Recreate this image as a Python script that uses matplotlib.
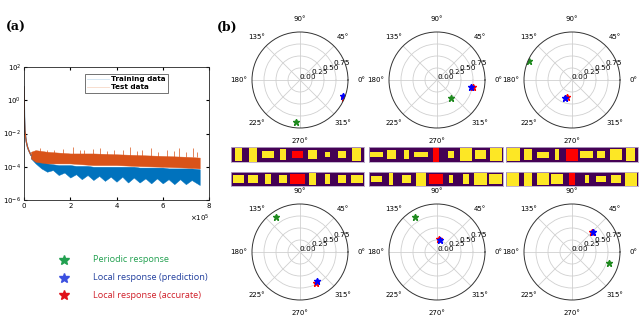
import numpy as np
import matplotlib
matplotlib.use("Agg")
import matplotlib.pyplot as plt
from matplotlib.patches import Rectangle
from matplotlib.lines import Line2D

# ---------------- data: panel (a) loss curves (log10 values) ----------
early_x = [0.0, 0.01, 0.02, 0.04, 0.07, 0.1, 0.15, 0.2, 0.3]
early_log = [0.8, 0.0, -1.0, -1.8, -2.2, -2.5, -2.8, -3.0, -3.3]

test_x = [0.3, 0.5, 1.0, 2.0, 3.0, 4.0, 5.0, 6.0, 7.0, 7.6]
test_top = [-3.1, -3.0, -3.1, -3.2, -3.2, -3.25, -3.3, -3.35, -3.4, -3.45]
test_bot = [-3.5, -3.7, -3.8, -3.8, -3.9, -3.9, -3.96, -4.0, -4.05, -4.1]
spike_x = [0.7, 1.0, 1.3, 1.7, 2.1, 2.4, 2.6, 3.0, 3.3, 3.6, 3.9, 4.3, 4.6, 4.9, 5.1, 5.5,
           5.8, 6.2, 6.5, 6.7, 7.0, 7.3, 7.5]
spike_log = [-2.9, -3.0, -3.0, -2.95, -2.8, -3.0, -3.0, -2.95, -2.9, -3.05, -3.0, -3.0, -2.8,
             -3.05, -3.0, -2.9, -3.1, -3.0, -3.05, -2.85, -3.1, -2.9, -3.1]

train_x = [0.3, 0.5, 0.75, 1.0, 1.25, 1.5, 1.75, 2.0, 2.25, 2.5, 2.75, 3.0, 3.25, 3.5, 3.75,
           4.0, 4.25, 4.5, 4.75, 5.0, 5.25, 5.5, 5.75, 6.0, 6.25, 6.5, 6.75, 7.0, 7.25, 7.6]
train_top = [-3.3, -3.4, -3.6, -3.8, -3.85, -3.9, -3.9, -3.9, -3.95, -3.95, -3.95, -4.0, -4.0, -4.0, -4.0,
             -4.0, -4.0, -4.0, -4.0, -4.05, -4.05, -4.05, -4.05, -4.05, -4.1, -4.1, -4.1, -4.1, -4.1, -4.15]
train_bot = [-3.5, -3.8, -4.1, -4.3, -4.2, -4.5, -4.35, -4.65, -4.45, -4.75, -4.5, -4.8, -4.55, -4.85, -4.6,
             -4.9, -4.6, -4.95, -4.65, -4.95, -4.7, -5.0, -4.7, -5.0, -4.75, -5.05, -4.75, -5.05, -4.8, -5.1]

# ---------------- data: panel (b) polar points (angle deg, radius) -----------------------
green_pts = [(265, 0.88), (307, 0.47), (156, 0.97), (125, 0.88), (122, 0.86), (344, 0.81)]
blue_pts = [(340, 0.96), (348, 0.72), (250, 0.41), (300, 0.69), (77, 0.25), (43, 0.61)]
red_pts = [(338, 0.99), (349, 0.77), (253, 0.38), (298, 0.73), (81, 0.28), (45, 0.58)]

# ---------------- data: strips (width frac, height frac) per slot; slot 5 is red ----------
strip_w = [
    [0.45, 0.52, 0.86, 0.41, 0.80, 0.59, 0.34, 0.50, 0.61],
    [0.75, 0.68, 0.41, 0.57, 1.00, 0.50, 0.34, 0.57, 0.80],
    [0.86, 0.57, 0.36, 0.90, 0.45, 0.43, 0.80, 0.72, 0.80],
    [0.68, 0.27, 0.60, 0.72, 1.00, 0.32, 0.38, 0.86, 0.84],
    [0.90, 0.57, 0.80, 0.27, 0.84, 0.90, 0.55, 0.84, 0.57],
    [0.84, 0.57, 0.80, 0.80, 0.45, 0.27, 0.68, 0.64, 0.80],
]
strip_h = [
    [0.82, 0.95, 0.50, 0.73, 0.50, 0.62, 0.38, 0.50, 0.89],
    [0.55, 0.55, 0.68, 0.55, 0.75, 0.80, 0.70, 0.55, 0.55],
    [0.33, 0.65, 0.65, 0.35, 1.00, 0.42, 0.86, 0.60, 0.86],
    [0.38, 0.85, 0.62, 1.00, 0.75, 0.62, 0.75, 0.85, 0.75],
    [0.85, 0.75, 0.40, 0.70, 0.80, 0.45, 0.52, 0.75, 0.85],
    [1.00, 1.00, 0.88, 0.75, 0.85, 0.58, 0.42, 0.62, 1.00],
]

legend_labels = ["Periodic response", "Local response (prediction)", "Local response (accurate)"]
legend_marker_colors = ["#22a050", "#3b50e0", "#e0101a"]
legend_text_colors = ["#22a050", "#23409e", "#d0202a"]

W, H = 640, 319
fig = plt.figure(figsize=(W / 100, H / 100), dpi=100)


def px_axes(x0, y0, x1, y1, **kw):
    return fig.add_axes([x0 / W, 1 - y1 / H, (x1 - x0) / W, (y1 - y0) / H], **kw)


# ---------------- panel (a) ----------------
ax = px_axes(24, 67, 209, 200)
c_blue = "#0072BD"
c_orange = "#D95319"
ax.plot(early_x, 10 ** np.array(early_log), color=c_blue, lw=1.0)
ax.fill_between(train_x, 10 ** np.array(train_bot), 10 ** np.array(train_top),
                color=c_blue, lw=0.3, edgecolor=c_blue)
ax.plot(early_x, 10 ** np.array(early_log), color=c_orange, lw=0.8)
ax.fill_between(test_x, 10 ** np.array(test_bot), 10 ** np.array(test_top),
                color=c_orange, lw=0.3, edgecolor=c_orange)
ax.vlines(spike_x, 10 ** -3.4, 10 ** np.array(spike_log), color=c_orange, lw=0.5)
ax.set_yscale("log")
ax.set_xlim(0, 8)
ax.set_ylim(1e-6, 1e2)
ax.set_yticks([1e-6, 1e-4, 1e-2, 1e0, 1e2])
ax.set_yticklabels([r"$10^{-6}$", r"$10^{-4}$", r"$10^{-2}$", r"$10^{0}$", r"$10^{2}$"])
ax.minorticks_off()
ax.set_xticks([0, 2, 4, 6, 8])
ax.tick_params(direction="in", labelsize=5, length=2, top=True, right=True, pad=2)
for s in ax.spines.values():
    s.set_linewidth(0.6)
    s.set_color("#222222")
handles = [Line2D([], [], color="#cfe3f3", lw=0.6), Line2D([], [], color="#f6d8c8", lw=0.6)]
leg = ax.legend(handles, ["Training data", "Test data"], loc="upper left",
                bbox_to_anchor=(0.31, 0.975), frameon=True, fancybox=False,
                edgecolor="#333333", handlelength=3.0, borderpad=0.3, labelspacing=0.3,
                handletextpad=0.3, prop={"weight": "bold", "size": 5.2})
leg.get_frame().set_linewidth(0.6)
fig.text(200 / W, 1 - 218 / H, r"$\times10^{5}$", fontsize=5, ha="center", va="center")
fig.text(6 / W, 1 - 27 / H, "(a)", fontsize=9, fontweight="bold", family="DejaVu Serif",
         va="center")
fig.text(217 / W, 1 - 27 / H, "(b)", fontsize=9, fontweight="bold", family="DejaVu Serif",
         va="center")

# legend for stars
for i, (lab, mc, tc) in enumerate(zip(legend_labels, legend_marker_colors, legend_text_colors)):
    y = 260 + i * 17.5
    fig.lines.append(Line2D([64 / W], [1 - y / H], marker="*", color=mc, markersize=7,
                            transform=fig.transFigure, linestyle="none"))
    fig.text(93 / W, 1 - y / H, lab, color=tc, fontsize=6.6, va="center", family="Open Sans")

# ---------------- panel (b) polar plots ----------------
centers = [(300, 80), (437, 80), (572, 80), (300, 252), (437, 252), (572, 252)]
R = 48
for k, (cx, cy) in enumerate(centers):
    pa = px_axes(cx - R, cy - R, cx + R, cy + R, projection="polar")
    pa.set_ylim(0, 1)
    pa.set_yticks([0, 0.25, 0.5, 0.75])
    pa.set_yticklabels(["0.00", "0.25", "0.50", "0.75"])
    pa.set_rlabel_position(22.5)
    pa.set_xticks(np.deg2rad(np.arange(0, 360, 45)))
    pa.set_xticklabels([f"{d}°" for d in range(0, 360, 45)])
    pa.tick_params(axis="x", labelsize=5, pad=-1)
    pa.tick_params(axis="y", labelsize=5.3)
    pa.grid(color="#d0d0d0", lw=0.6)
    pa.spines["polar"].set_linewidth(0.7)
    pa.spines["polar"].set_color("#333333")
    g, b, r = green_pts[k], blue_pts[k], red_pts[k]
    pa.plot(np.deg2rad(g[0]), g[1], marker="*", color="#1f8a1f", markersize=4.5, linestyle="none")
    pa.plot(np.deg2rad(r[0]), r[1], marker="*", color="#ff0000", markersize=4.5, linestyle="none")
    pa.plot(np.deg2rad(b[0]), b[1], marker="*", color="#0000ff", markersize=4.5, linestyle="none")
    pa.set_facecolor("none")

# ---------------- strips ----------------
strip_cols = [(231, 364), (369, 503), (506, 638)]
strip_rows = [(147, 162), (172, 186)]
order = [(0, 0), (1, 0), (0, 1), (1, 1), (0, 2), (1, 2)]
for idx, (ri, ci) in enumerate(order):
    x0, x1 = strip_cols[ci]
    y0, y1 = strip_rows[ri]
    sa = px_axes(x0, y0, x1, y1)
    sa.set_facecolor("#440154")
    sa.set_xlim(0, 9)
    sa.set_ylim(0, 1)
    sa.set_xticks([])
    sa.set_yticks([])
    for s in sa.spines.values():
        s.set_color("#b8a8c8")
        s.set_linewidth(0.6)
    for j in range(9):
        w = strip_w[idx][j]
        h = strip_h[idx][j]
        col = "#ff0000" if j == 4 else "#fde725"
        sa.add_patch(Rectangle((j + 0.5 - w / 2, 0.5 - h / 2), w, h, facecolor=col,
                               edgecolor="none"))

fig.savefig("out.png", dpi=100)
